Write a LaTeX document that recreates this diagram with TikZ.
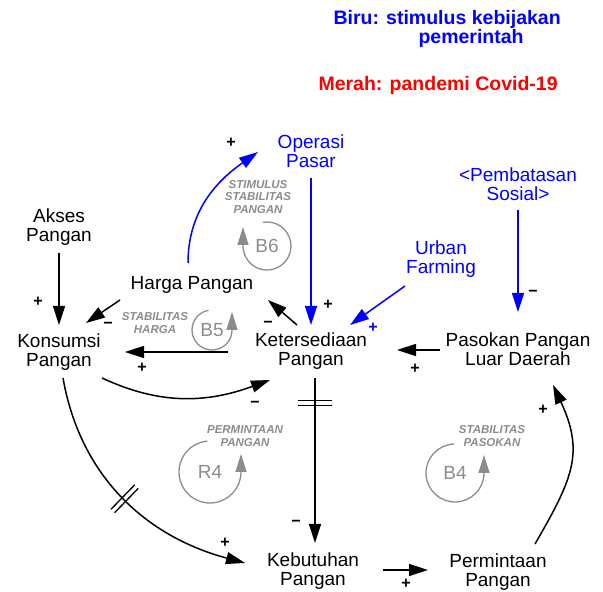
\documentclass[tikz,border=0pt]{standalone}
\usepackage{fontspec}
\setmainfont{Liberation Sans}
\usepackage{xcolor}
\usepackage{tikz}
\usetikzlibrary{arrows.meta, decorations.markings}

\definecolor{policy}{RGB}{0,0,255}
\definecolor{covid}{RGB}{255,0,0}
\definecolor{loopgray}{RGB}{140,140,140}

\begin{document}
\begin{tikzpicture}[
      x=1pt, y=1pt,
      var/.style      = {align=center, inner sep=2pt, font=\fontsize{19}{19}\selectfont},
      pvar/.style     = {var, text=policy},
      link/.style     = {line width=1.5pt, -{Triangle[length=19pt, width=12pt]}},
      plink/.style    = {link, draw=policy},
      sign/.style     = {inner sep=0pt, font=\fontsize{16}{16}\selectfont\bfseries},
      loopid/.style   = {inner sep=0pt, text=loopgray, font=\fontsize{19}{19}\selectfont},
      loopname/.style = {inner sep=0pt, align=center, text=loopgray,
                         font=\fontsize{11.5}{12.5}\selectfont\bfseries\itshape},
      looparc/.style  = {draw=loopgray, line width=1.3pt, -{Triangle[length=18pt, width=11pt]}},
      delay/.style    = {postaction=decorate, decoration={markings, mark=at position #1 with
                         {\draw[-, line width=1.3pt] (-2.5pt,-17pt) -- (-2.5pt,17pt) (2.5pt,-17pt) -- (2.5pt,17pt);}}}
  ]
  \useasboundingbox (0,0) rectangle (603,592);

  % --- Legend ---
  \node[anchor=west, align=left, text=policy, font=\fontsize{19.5}{18}\selectfont\bfseries]
        (biru) at (330,563) {Biru: stimulus kebijakan\\\hspace*{85pt}pemerintah};
  \node[anchor=west, text=covid, font=\fontsize{19.5}{18}\selectfont\bfseries]
        (merah) at (315,507) {Merah: pandemi Covid-19};

  % --- Variables ---
  \node[var]  (akses)   at (59,365)  {Akses\\Pangan};
  \node[var]  (kons)    at (59,240)  {Konsumsi\\Pangan};
  \node[var]  (harga)   at (192,307) {Harga Pangan};
  \node[var]  (keters)  at (311,241) {Ketersediaan\\Pangan};
  \node[var]  (pasokan) at (518,243) {Pasokan Pangan\\Luar Daerah};
  \node[var]  (butuh)   at (313,21)  {Kebutuhan\\Pangan};
  \node[var]  (minta)   at (498,20)  {Permintaan\\Pangan};

  % --- Policy variables (blue) ---
  \node[pvar] (operasi) at (311,441) {Operasi\\Pasar};
  \node[pvar] (batas)   at (518,408) {<Pembatasan\\Sosial>};
  \node[pvar] (urban)   at (441,333) {Urban\\Farming};

  % --- Causal links ---
  \draw[link] ([shift={(0,-26)}]akses.center) -- ([shift={(0,27)}]kons.center);
  \draw[link] ([shift={(-72,-15)}]harga.center) -- ([shift={(27,29)}]kons.center);
  \draw[link] ([shift={(-83,-1)}]keters.center) -- ([shift={(66,0)}]kons.center);
  \draw[link] ([shift={(43,-26)}]kons.center) to[out=-25, in=200] ([shift={(-41,-29)}]keters.center);
  \draw[link] ([shift={(-14,26)}]keters.center) -- ([shift={(76,-15)}]harga.center);
  \draw[link] ([shift={(-78,-1)}]pasokan.center) -- ([shift={(86,1)}]keters.center);
  \draw[link, delay=0.15] ([shift={(4,-27)}]keters.center) -- ([shift={(2,28)}]butuh.center);
  \draw[link, delay=0.5] ([shift={(4,-26)}]kons.center) to[out=-80, in=165] ([shift={(-68,8)}]butuh.center);
  \draw[link] ([shift={(70,1)}]butuh.center) -- ([shift={(-70,2)}]minta.center);
  \draw[link] ([shift={(37,28)}]minta.center) to[out=60, in=-65, looseness=1.2] ([shift={(35,-36)}]pasokan.center);

  % --- Policy links ---
  \draw[plink] ([shift={(0,-27)}]operasi.center) -- ([shift={(0,26)}]keters.center);
  \draw[plink] ([shift={(-36,-27)}]urban.center) -- ([shift={(39,26)}]keters.center);
  \draw[plink] ([shift={(0,-26)}]batas.center) -- ([shift={(0,37)}]pasokan.center);
  \draw[plink] ([shift={(-4,22)}]harga.center) to[out=90, in=215] ([shift={(-53,-1)}]operasi.center);

  % --- Polarities ---
  \node[sign] (sAkses)  at (38,290)  {+};
  \node[sign] (sHarga)  at (108,267) {−};
  \node[sign] (sKetK)   at (142,224) {+};
  \node[sign] (sKonsK)  at (255,188) {−};
  \node[sign] (sKetH)   at (268,268) {−};
  \node[sign] (sOps)    at (328,287) {+};
  \node[sign, text=policy] (sUrban) at (373,264) {+};
  \node[sign] (sBatas)  at (533,299) {−};
  \node[sign] (sPas)    at (415,223) {+};
  \node[sign] (sHOps)   at (231,449) {+};
  \node[sign] (sButuh)  at (296,69)  {−};
  \node[sign] (sKonsB)  at (225,49)  {+};
  \node[sign] (sMinta)  at (406,8)   {+};
  \node[sign] (sPasM)   at (543,182) {+};

  % --- Loops ---
  \node[loopid]   (b6)  at (267,346) {B6};
  \node[loopname] (nb6) at (258,395) {STIMULUS\\STABILITAS\\PANGAN};
  \draw[looparc] ([shift={(100:24pt)}]b6.center) arc[start angle=100, end angle=-180, radius=24pt] -- ++(0,19pt);

  \node[loopid]   (b5)  at (212,262) {B5};
  \node[loopname] (nb5) at (155,269) {STABILITAS\\HARGA};
  \draw[looparc] ([shift={(100:20pt)}]b5.center) arc[start angle=100, end angle=360, radius=20pt] -- ++(0,18pt);

  \node[loopid]   (r4)  at (210,120) {R4};
  \node[loopname] (nr4) at (245,156) {PERMINTAAN\\PANGAN};
  \draw[looparc] ([shift={(95:31pt)}]r4.center) arc[start angle=95, end angle=360, radius=31pt] -- ++(0,18pt);

  \node[loopid]   (b4)  at (455,119) {B4};
  \node[loopname] (nb4) at (492,156) {STABILITAS\\PASOKAN};
  \draw[looparc] ([shift={(92:29pt)}]b4.center) arc[start angle=92, end angle=360, radius=29pt] -- ++(0,18pt);

\end{tikzpicture}
\end{document}
